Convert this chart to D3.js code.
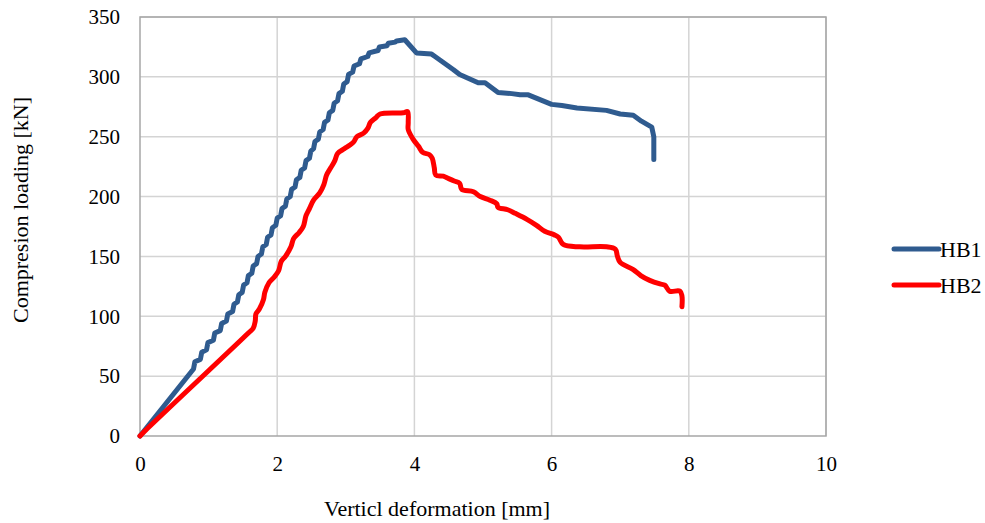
<!DOCTYPE html>
<html>
<head>
<meta charset="utf-8">
<script src="https://cdn.jsdelivr.net/npm/d3@7"></script>
<style>
  body { margin: 0; background: #fff; }
  svg text { font-family: "Liberation Serif", "DejaVu Serif", serif !important; fill: #000; }
</style>
</head>
<body>
<svg id="chart" width="985" height="523"></svg>
<script>
// Series names and axis ticks
const seriesNames = ["HB1", "HB2"];
const xTicks = [0, 2, 4, 6, 8, 10];
const yTicks = [0, 50, 100, 150, 200, 250, 300, 350];

// HB1: [vertical deformation mm, load kN] (step pattern included)
const hb1Points = [
  [0, 0], [0.78, 56],
  [0.80, 62], [0.88, 64],
  [0.90, 70], [0.97, 72],
  [0.99, 78], [1.07, 80],
  [1.09, 86], [1.17, 88],
  [1.19, 94], [1.26, 96],
  [1.28, 102], [1.35, 104],
  [1.37, 110], [1.42, 112],
  [1.44, 118], [1.49, 120],
  [1.51, 126], [1.56, 128],
  [1.58, 134], [1.63, 136],
  [1.65, 142], [1.70, 144],
  [1.72, 150], [1.77, 152],
  [1.79, 158], [1.84, 160],
  [1.86, 166], [1.91, 168],
  [1.93, 174], [1.98, 176],
  [2.00, 182], [2.05, 184],
  [2.07, 190], [2.12, 192],
  [2.14, 198], [2.19, 200],
  [2.21, 206], [2.26, 208],
  [2.28, 214], [2.33, 216],
  [2.35, 222], [2.40, 224],
  [2.42, 230], [2.47, 232],
  [2.49, 238], [2.53, 240],
  [2.55, 246], [2.60, 248],
  [2.62, 254], [2.67, 256],
  [2.69, 262], [2.74, 264],
  [2.76, 270], [2.81, 272],
  [2.83, 278], [2.88, 280],
  [2.90, 286], [2.95, 288],
  [2.97, 294], [3.02, 296],
  [3.04, 302], [3.10, 304],
  [3.12, 309], [3.20, 311],
  [3.22, 315], [3.32, 317],
  [3.34, 320], [3.47, 322],
  [3.49, 325], [3.60, 326],
  [3.62, 328], [3.72, 329],
  [3.74, 330], [3.86, 331],
  [4.03, 320], [4.25, 319], [4.30, 317], [4.57, 306], [4.66, 302],
  [4.93, 295], [5.03, 295], [5.22, 287], [5.42, 286], [5.54, 285],
  [5.66, 285], [6.00, 277], [6.15, 276], [6.37, 274], [6.80, 272],
  [7.00, 269], [7.19, 268], [7.31, 263], [7.46, 258], [7.49, 250],
  [7.49, 231]
];

// HB2: [vertical deformation mm, load kN]
const hb2Points = [
  [0, 0], [0.05, 3], [1.58, 86], [1.65, 90], [1.68, 96], [1.69, 102], [1.74, 106], [1.80, 114],
  [1.82, 120], [1.88, 128], [1.96, 133], [2.02, 138], [2.06, 146], [2.12, 150],
  [2.20, 158], [2.24, 165], [2.32, 170], [2.38, 175], [2.42, 184], [2.47, 190],
  [2.53, 197], [2.62, 203], [2.68, 210], [2.72, 218], [2.78, 224], [2.84, 230],
  [2.88, 236], [2.98, 240], [3.06, 243], [3.12, 246], [3.16, 250], [3.26, 253],
  [3.32, 257], [3.36, 262], [3.44, 266], [3.50, 269], [3.84, 270], [3.90, 271],
  [3.91, 262], [3.91, 256], [3.98, 248], [4.06, 242], [4.12, 237], [4.22, 235],
  [4.26, 232], [4.29, 224], [4.31, 218], [4.42, 217], [4.50, 215], [4.58, 213],
  [4.66, 211], [4.69, 206], [4.86, 204], [4.96, 200], [5.10, 197], [5.20, 194],
  [5.22, 191], [5.36, 189], [5.47, 186], [5.64, 181], [5.78, 176], [5.90, 171],
  [6.04, 168], [6.10, 166], [6.17, 160], [6.41, 158], [6.80, 158], [6.93, 156],
  [6.96, 150], [7.00, 145], [7.19, 139], [7.30, 134], [7.43, 130], [7.58, 127],
  [7.65, 126], [7.72, 121], [7.87, 121], [7.90, 117], [7.90, 108]
];

const seriesColors = ["#2f5b8f", "#ff0000"];

const svg = d3.select("#chart");
const margin = {left: 140, right: 159, top: 17, bottom: 87};
const width = 985 - margin.left - margin.right;
const height = 523 - margin.top - margin.bottom;

const x = d3.scaleLinear().domain([0, 10]).range([margin.left, margin.left + width]);
const y = d3.scaleLinear().domain([0, 350]).range([margin.top + height, margin.top]);

// Gridlines
svg.append("g")
   .selectAll("line")
   .data(yTicks.slice(1))
   .enter().append("line")
   .attr("x1", x(0)).attr("x2", x(10))
   .attr("y1", d => y(d)).attr("y2", d => y(d))
   .attr("stroke", "#d4d4d4").attr("stroke-width", 1.5);

svg.append("g")
   .selectAll("line")
   .data(xTicks.slice(1))
   .enter().append("line")
   .attr("x1", d => x(d)).attr("x2", d => x(d))
   .attr("y1", y(0)).attr("y2", y(350))
   .attr("stroke", "#d4d4d4").attr("stroke-width", 1.5);

// Plot border
svg.append("rect")
   .attr("x", x(0)).attr("y", y(350))
   .attr("width", x(10) - x(0)).attr("height", y(0) - y(350))
   .attr("fill", "none").attr("stroke", "#a6a6a6").attr("stroke-width", 1.5);

// Axes (labels only, Excel-style)
const xAxis = d3.axisBottom(x).tickValues(xTicks).tickSize(0).tickPadding(20);
const yAxis = d3.axisLeft(y).tickValues(yTicks).tickSize(0).tickPadding(20);

const gx = svg.append("g").attr("transform", "translate(0," + y(0) + ")").call(xAxis);
const gy = svg.append("g").attr("transform", "translate(" + x(0) + ",0)").call(yAxis);
[gx, gy].forEach(g => {
  g.select(".domain").remove();
  g.attr("font-family", null).attr("font-size", null);
  g.selectAll("text").style("font-size", "21px");
});

// Series lines
const line = d3.line().x(d => x(d[0])).y(d => y(d[1]));
const smoothLine = d3.line().x(d => x(d[0])).y(d => y(d[1])).curve(d3.curveCatmullRom.alpha(0.5));
[hb1Points, hb2Points].forEach((pts, i) => {
  svg.append("path")
     .datum(pts)
     .attr("d", i === 0 ? line : smoothLine)
     .attr("fill", "none")
     .attr("stroke", seriesColors[i])
     .attr("stroke-width", 5)
     .attr("stroke-linejoin", "round")
     .attr("stroke-linecap", "round");
});

// Axis titles
svg.append("text")
   .attr("x", 437).attr("y", 516)
   .attr("text-anchor", "middle")
   .style("font-size", "22px")
   .text("Verticl deformation [mm]");

svg.append("text")
   .attr("transform", "translate(28,210) rotate(-90)")
   .attr("text-anchor", "middle")
   .style("font-size", "22px")
   .text("Compresion loading [kN]");

// Legend
const legend = svg.append("g").attr("transform", "translate(894,249)");
seriesNames.forEach((name, i) => {
  const row = legend.append("g").attr("transform", "translate(0," + (i * 36) + ")");
  row.append("line")
     .attr("x1", 0).attr("x2", 45)
     .attr("stroke", seriesColors[i]).attr("stroke-width", 5)
     .attr("stroke-linecap", "round");
  row.append("text")
     .attr("x", 46).attr("dy", "0.35em")
     .style("font-size", "22px")
     .text(name);
});
</script>
</body>
</html>
